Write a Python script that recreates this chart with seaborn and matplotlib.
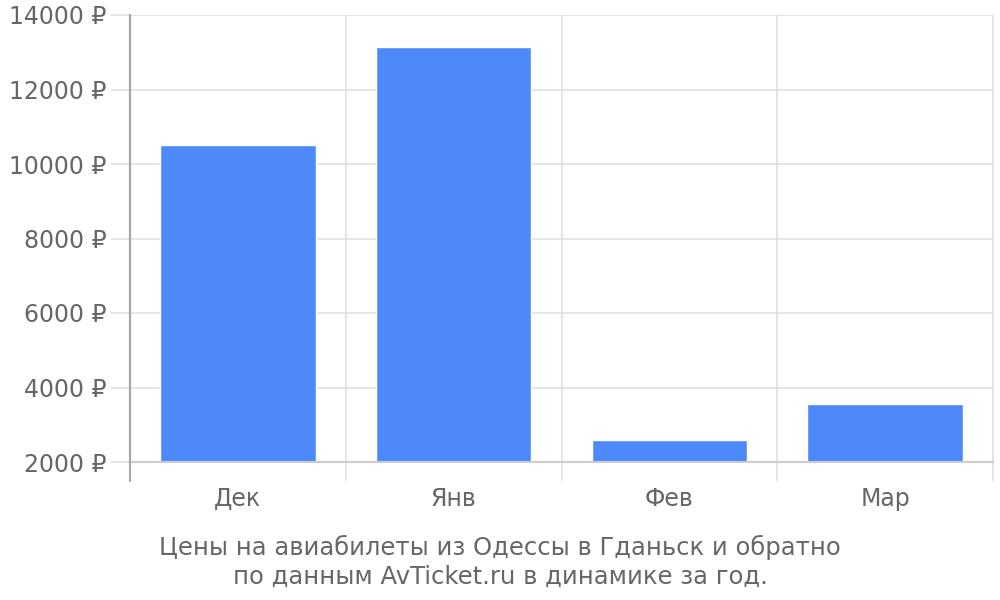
import numpy as np
import pandas as pd
import matplotlib
matplotlib.use("Agg")
import matplotlib.pyplot as plt
import seaborn as sns

# ─────────────────────────────────────────────
# DATA
# ─────────────────────────────────────────────
MONTHS = ["Дек", "Янв", "Фев", "Мар"]
PRICES = [10500, 13130, 2580, 3550]
Y_TICKS = [2000, 4000, 6000, 8000, 10000, 12000, 14000]
CAPTION = ("Цены на авиабилеты из Одессы в Гданьск и обратно\n"
           "по данным AvTicket.ru в динамике за год.")

BAR_COLOR = "#4d89f9"
TEXT_COLOR = "#666666"
GRID_COLOR = "#e0e0e0"

df = pd.DataFrame({"month": MONTHS, "price": PRICES})

sns.set_theme(style="white")
plt.rcParams["font.family"] = ["DejaVu Sans"]

fig = plt.figure(figsize=(10, 6), dpi=100)
ax = fig.add_axes([0.130, 1 - 462 / 600, 0.863, (462 - 15) / 600])

sns.barplot(data=df, x="month", y="price", color=BAR_COLOR,
            width=0.72, saturation=1, ax=ax, zorder=3)

ax.set_ylim(Y_TICKS[0], Y_TICKS[-1])
ax.set_xlim(-0.5, len(MONTHS) - 0.5)
ax.set_yticks(Y_TICKS)
ax.set_yticklabels([f"{v} ₽" for v in Y_TICKS])
ax.set_xticks(np.arange(-0.5, len(MONTHS)), minor=True)

ax.grid(axis="y", color=GRID_COLOR, linewidth=1.2, zorder=0)
ax.grid(axis="x", which="minor", color=GRID_COLOR, linewidth=1.2,
        zorder=0, clip_on=False)

ax.tick_params(axis="y", left=True, length=14, color=GRID_COLOR, width=1.2,
               labelsize=17, labelcolor=TEXT_COLOR, pad=3)
ax.tick_params(axis="x", which="major", bottom=False, length=0, labelsize=17,
               labelcolor=TEXT_COLOR, pad=18)
ax.tick_params(axis="x", which="minor", bottom=True, length=14,
               color=GRID_COLOR, width=1.2)

for side in ["top", "right"]:
    ax.spines[side].set_visible(False)
ax.spines["bottom"].set_color("#cccccc")
ax.spines["bottom"].set_linewidth(1.5)
ax.spines["bottom"].set_zorder(5)
ax.spines["left"].set_color("#a6a6a6")
ax.spines["left"].set_linewidth(1.5)
ax.axvline(-0.5, ymin=-0.043, ymax=1, color="#a6a6a6", linewidth=1.5,
           clip_on=False, zorder=6)

ax.set_xlabel("")
ax.set_ylabel("")

fig.text(0.5, 0.063, CAPTION, ha="center", va="center", fontsize=17.5,
         color=TEXT_COLOR, linespacing=1.25)

fig.savefig("out.png", dpi=100)
